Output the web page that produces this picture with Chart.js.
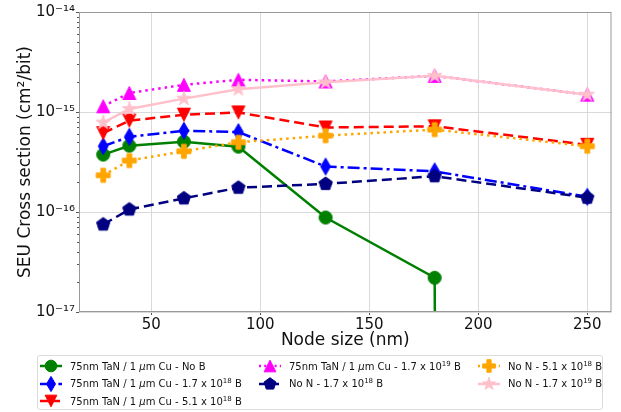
<!DOCTYPE html>
<html lang="en">
<head>
<meta charset="UTF-8">
<title>SEU cross section vs node size</title>
<style>
  body { margin: 0; background: #fff; font-family: 'DejaVu Sans', sans-serif; }
  #wrap { position: relative; width: 621px; height: 412px; }
  #legend {
    position: absolute; left: 37px; top: 355px; width: 566px; height: 55px;
    border: 1px solid #dcdcdc; border-radius: 3px; box-sizing: border-box;
    font-size: 10px; color: #111; background: #fff;
  }
  .item { position: absolute; display: flex; align-items: center; white-space: nowrap; height: 16px; }
  .item canvas { margin-right: 8px; }
  .item sup { font-size: 7px; vertical-align: 4px; line-height: 0; }
</style>
</head>
<body>
<div id="wrap">
  <canvas id="seuChart" width="621" height="412"></canvas>
  <div id="legend"></div>
</div>

<script src="https://cdn.jsdelivr.net/npm/chart.js"></script>
<script>
// data (cm^2/bit), 0 = below the axis
const nodeSizes = [28, 40, 65, 90, 130, 180, 250];
const tanNoB     = [3.75e-16, 4.6e-16, 5.05e-16, 4.5e-16, 8.8e-17, 2.2e-17, 0];
const tanB17e18  = [4.55e-16, 5.65e-16, 6.5e-16, 6.3e-16, 2.85e-16, 2.55e-16, 1.42e-16];
const tanB51e18  = [6.15e-16, 8.2e-16, 9.4e-16, 9.9e-16, 7.0e-16, 7.2e-16, 4.7e-16];
const tanB17e19  = [1.14e-15, 1.55e-15, 1.87e-15, 2.1e-15, 2.02e-15, 2.3e-15, 1.49e-15];
const noN17e18   = [7.5e-17, 1.06e-16, 1.37e-16, 1.75e-16, 1.91e-16, 2.28e-16, 1.39e-16];
const noN51e18   = [2.33e-16, 3.27e-16, 4.05e-16, 4.98e-16, 5.8e-16, 6.67e-16, 4.55e-16];
const noN17e19   = [7.85e-16, 1.07e-15, 1.36e-15, 1.69e-15, 1.98e-15, 2.3e-15, 1.49e-15];

const xTicks = [50, 100, 150, 200, 250];
const yTicks = [1e-17, 1e-16, 1e-15, 1e-14];
const yTickLabels = ['10⁻¹⁷', '10⁻¹⁶', '10⁻¹⁵', '10⁻¹⁴'];

const seriesLabels = [
  '75nm TaN / 1 <i>μ</i>m Cu - No B',
  '75nm TaN / 1 <i>μ</i>m Cu - 1.7 x 10<sup>18</sup> B',
  '75nm TaN / 1 <i>μ</i>m Cu - 5.1 x 10<sup>18</sup> B',
  '75nm TaN / 1 <i>μ</i>m Cu - 1.7 x 10<sup>19</sup> B',
  'No N - 1.7 x 10<sup>18</sup> B',
  'No N - 5.1 x 10<sup>18</sup> B',
  'No N - 1.7 x 10<sup>19</sup> B'
];

// style per series: colour, marker, dash
const styles = [
  { color: 'green',   marker: 'circle',  size: 13, dash: [] },
  { color: 'blue',    marker: 'diamond', size: 13, dash: [12, 4, 3, 4] },
  { color: 'red',     marker: 'tridown', size: 13, dash: [10, 5] },
  { color: 'magenta', marker: 'triup',   size: 13, dash: [2.5, 4] },
  { color: 'navy',    marker: 'pentagon',size: 14, dash: [10, 5] },
  { color: 'orange',  marker: 'plus',    size: 14, dash: [2.5, 4] },
  { color: 'pink',    marker: 'star',    size: 15, dash: [] }
];
const seriesData = [tanNoB, tanB17e18, tanB51e18, tanB17e19, noN17e18, noN51e18, noN17e19];

// matplotlib-like filled markers
function drawMarker(ctx, shape, color, cx, cy, s) {
  const pts = [];
  if (shape === 'diamond') pts.push([0, -0.65], [0.38, 0], [0, 0.65], [-0.38, 0]);
  if (shape === 'tridown') pts.push([-0.5, -0.5], [0.5, -0.5], [0, 0.5]);
  if (shape === 'triup') pts.push([-0.5, 0.5], [0.5, 0.5], [0, -0.5]);
  if (shape === 'pentagon') {
    for (let k = 0; k < 5; k++) {
      const a = -Math.PI / 2 + k * 2 * Math.PI / 5;
      pts.push([0.5 * Math.cos(a), 0.5 * Math.sin(a)]);
    }
  }
  if (shape === 'star') {
    for (let k = 0; k < 10; k++) {
      const a = -Math.PI / 2 + k * Math.PI / 5;
      const r = k % 2 ? 0.19 : 0.5;
      pts.push([r * Math.cos(a), r * Math.sin(a)]);
    }
  }
  if (shape === 'plus') {
    const t = 1 / 6, h = 0.5;
    pts.push([-t, -h], [t, -h], [t, -t], [h, -t], [h, t], [t, t], [t, h], [-t, h], [-t, t], [-h, t], [-h, -t], [-t, -t]);
  }
  ctx.save();
  ctx.setLineDash([]);
  ctx.fillStyle = color;
  ctx.strokeStyle = color;
  ctx.lineWidth = 1;
  ctx.beginPath();
  if (shape === 'circle') {
    ctx.arc(cx, cy, s / 2, 0, Math.PI * 2);
  } else {
    pts.forEach((p, i) => {
      const px = cx + p[0] * s, py = cy + p[1] * s;
      if (i === 0) ctx.moveTo(px, py); else ctx.lineTo(px, py);
    });
    ctx.closePath();
  }
  ctx.fill();
  ctx.stroke();
  ctx.restore();
}

function markerCanvas(st) {
  const c = document.createElement('canvas');
  c.width = 26; c.height = 26;
  drawMarker(c.getContext('2d'), st.marker, st.color, 13, 13, st.size);
  return c;
}

// log axis cannot show 0: push it far below like matplotlib's clipping
const logSafe = v => (v > 0 ? v : 1e-300);

const datasets = seriesData.map((vals, i) => ({
  label: seriesLabels[i],
  data: nodeSizes.map((x, j) => ({ x: x, y: logSafe(vals[j]) })),
  borderColor: styles[i].color,
  backgroundColor: styles[i].color,
  borderWidth: 2.5,
  borderDash: styles[i].dash,
  pointStyle: markerCanvas(styles[i]),
  pointRadius: 7,
  tension: 0,
  order: seriesData.length - 1 - i
}));

// frame on all four sides + minor log ticks
const framePlugin = {
  id: 'frame',
  afterDatasetsDraw(chart) {
    const { ctx, chartArea: a, scales: { y } } = chart;
    ctx.save();
    ctx.strokeStyle = '#999';
    ctx.lineWidth = 1;
    ctx.setLineDash([]);
    ctx.strokeRect(a.left + 0.5, a.top + 0.5, a.right - a.left - 1, a.bottom - a.top - 1);
    ctx.strokeStyle = '#555';
    ctx.beginPath();
    for (let d = -17; d < -14; d++) {
      for (let m = 2; m <= 9; m++) {
        const py = Math.round(y.getPixelForValue(m * Math.pow(10, d))) + 0.5;
        ctx.moveTo(a.left - 2, py);
        ctx.lineTo(a.left, py);
      }
    }
    ctx.stroke();
    ctx.restore();
  }
};

const ctx = document.getElementById('seuChart').getContext('2d');

new Chart(ctx, {
  type: 'line',
  data: { datasets: datasets },
  options: {
    responsive: false,
    animation: false,
    devicePixelRatio: 1,
    layout: { padding: { top: 12, right: 9, left: 0, bottom: 56 } },
    plugins: { legend: { display: false }, tooltip: { enabled: false } },
    scales: {
      x: {
        type: 'linear',
        min: 16.9,
        max: 261.1,
        afterBuildTicks: s => { s.ticks = xTicks.map(v => ({ value: v })); },
        afterFit: s => { s.height = 44; },
        grid: { color: '#d9d9d9', tickColor: '#555', tickLength: 3 },
        border: { display: false },
        ticks: { color: '#111', padding: 1, maxRotation: 0, font: { family: 'DejaVu Sans', size: 15 } },
        title: {
          display: true,
          text: 'Node size (nm)',
          color: '#111',
          padding: { top: 0, bottom: 5 },
          font: { family: 'DejaVu Sans', size: 17 }
        }
      },
      y: {
        type: 'logarithmic',
        min: 1e-17,
        max: 1e-14,
        afterBuildTicks: s => { s.ticks = yTicks.map(v => ({ value: v })); },
        afterFit: s => { s.width = 79; },
        grid: { color: '#d9d9d9', tickColor: '#555', tickLength: 3 },
        border: { display: false },
        ticks: {
          color: '#111',
          padding: 1,
          font: { family: 'DejaVu Sans', size: 15 },
          callback: (value, index) => yTickLabels[index]
        },
        title: {
          display: true,
          text: 'SEU Cross section (cm²/bit)',
          color: '#111',
          padding: { top: 15, bottom: 0 },
          font: { family: 'DejaVu Sans', size: 17 }
        }
      }
    }
  },
  plugins: [framePlugin]
});

// legend, three columns filled top to bottom like matplotlib
const legendCols = [2, 221, 440];
const legendRows = [2, 19.5, 37];
const legendPos = [[0, 0], [0, 1], [0, 2], [1, 0], [1, 1], [2, 0], [2, 1]];
const legendBox = document.getElementById('legend');
styles.forEach((st, i) => {
  const item = document.createElement('div');
  item.className = 'item';
  item.style.left = legendCols[legendPos[i][0]] + 'px';
  item.style.top = legendRows[legendPos[i][1]] + 'px';
  const c = document.createElement('canvas');
  c.width = 22; c.height = 16;
  const g = c.getContext('2d');
  g.strokeStyle = st.color;
  g.lineWidth = 2.5;
  g.setLineDash(st.dash.map(d => d * 0.8));
  g.beginPath();
  g.moveTo(0, 8);
  g.lineTo(22, 8);
  g.stroke();
  drawMarker(g, st.marker, st.color, 11, 8, st.size * 0.9);
  item.appendChild(c);
  const span = document.createElement('span');
  span.innerHTML = seriesLabels[i];
  item.appendChild(span);
  legendBox.appendChild(item);
});
</script>
</body>
</html>
